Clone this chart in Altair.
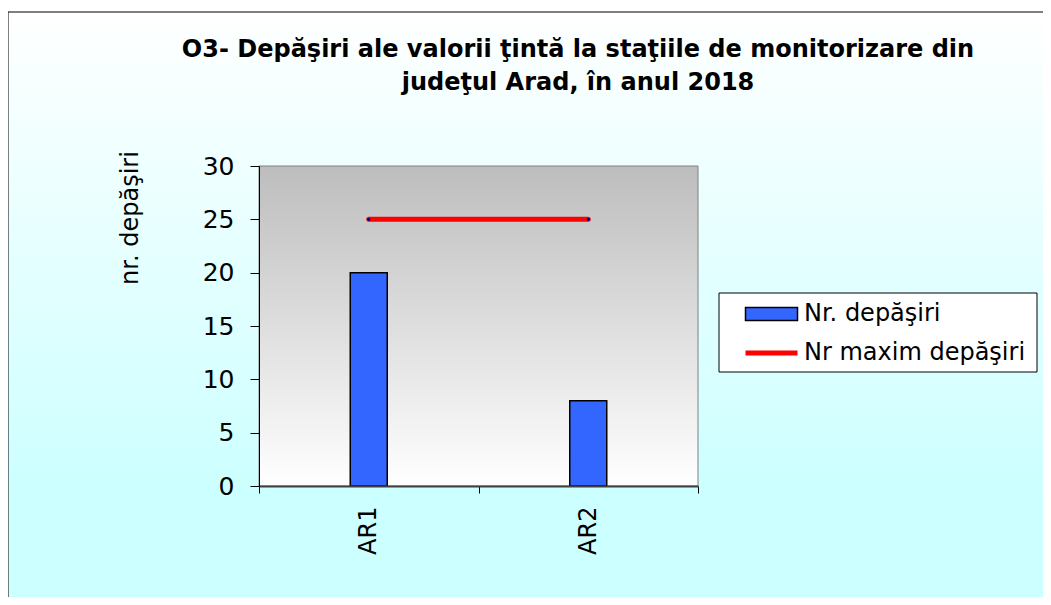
import altair as alt
import pandas as pd

# ---- data ----
stations = ["AR1", "AR2"]
depasiri = [20, 8]
maxim = [25, 25]
series = ["Nr. depăşiri", "Nr maxim depăşiri"]
colors = ["#3366FF", "#FF0000"]
y_ticks = [0, 5, 10, 15, 20, 25, 30]
title_lines = ["O3- Depăşiri ale valorii ţintă la staţiile de monitorizare din",
               "judeţul Arad, în anul 2018"]
y_title = "nr. depăşiri"

bars_df = pd.DataFrame({"statie": stations, "valoare": depasiri, "serie": series[0]})
line_df = pd.DataFrame({"statie": stations, "valoare": maxim, "serie": series[1]})

FONT = "DejaVu Sans"
W, H = 439, 320

x_enc = alt.X(
    "statie:N", sort=stations,
    scale=alt.Scale(domain=stations, paddingInner=0, paddingOuter=0),
    axis=alt.Axis(title=None, labelAngle=270, labelAlign="right", labelBaseline="middle",
                  labelFont=FONT, labelFontSize=24, labelColor="black", labelPadding=13,
                  tickBand="extent", tickSize=7, tickColor="black",
                  domainColor="#404040", domainWidth=2, zindex=1),
)
y_enc = alt.Y(
    "valoare:Q",
    scale=alt.Scale(domain=[0, 30], nice=False),
    axis=alt.Axis(values=y_ticks, title=y_title, titleFont=FONT, titleFontSize=24,
                  titleFontWeight="normal", titleAngle=270, titleX=-122, titleY=51.5,
                  titleAlign="center", titleBaseline="alphabetic", titleColor="black",
                  labelFont=FONT, labelFontSize=25, labelColor="black", labelPadding=16,
                  tickSize=9, tickColor="black", domainColor="black", grid=False, zindex=1),
)

common_leg = dict(title=None, orient="none", padding=0, labelFont=FONT, labelFontSize=24,
                  labelColor="black", labelLimit=500, symbolSize=169, symbolOffset=30.5,
                  labelOffset=20.5, zindex=2)
fill_enc = alt.Fill(
    "serie:N", scale=alt.Scale(domain=[series[0]], range=[colors[0]]),
    legend=alt.Legend(legendX=470, legendY=136, symbolType="M-4,-1H4V1H-4Z",
                      symbolStrokeColor="black", symbolStrokeWidth=1.5,
                      symbolOpacity=1, **common_leg))
stroke_enc = alt.Stroke(
    "serie:N", scale=alt.Scale(domain=[series[1]], range=[colors[1]]),
    legend=alt.Legend(legendX=470, legendY=175, symbolType="M-4,0H4",
                      symbolStrokeWidth=5, symbolOpacity=1, **common_leg))

outer_grad = {"gradient": "linear", "x1": 0, "y1": 0, "x2": 0, "y2": 1,
              "stops": [{"offset": 0, "color": "#FFFFFF"},
                        {"offset": 0.8, "color": "#CCFFFF"},
                        {"offset": 1, "color": "#CCFFFF"}]}
plot_grad = {"gradient": "linear", "x1": 0, "y1": 0, "x2": 0, "y2": 1,
             "stops": [{"offset": 0, "color": "#BDBDBD"},
                       {"offset": 1, "color": "#FFFFFF"}]}

one = alt.Data(values=[{"k": 1}])
outer = alt.Chart(one).mark_rect(fill=outer_grad, stroke="black", strokeWidth=1).encode(
    x=alt.value(-251), x2=alt.value(800), y=alt.value(-154), y2=alt.value(450))
plotbg = alt.Chart(one).mark_rect(fill=plot_grad, stroke="#808080", strokeWidth=1).encode(
    x=alt.value(0), x2=alt.value("width"), y=alt.value(0), y2=alt.value("height"))
legbox = alt.Chart(one).mark_rect(fill="white", stroke="black", strokeWidth=1).encode(
    x=alt.value(460), x2=alt.value(778), y=alt.value(127), y2=alt.value(206))

bars = alt.Chart(bars_df).mark_bar(size=37, stroke="black", strokeWidth=1.5).encode(
    x=x_enc, y=y_enc, fill=fill_enc)
line = alt.Chart(line_df).mark_line(strokeWidth=5, strokeCap="round").encode(
    x=x_enc, y=y_enc, stroke=stroke_enc)
pts = alt.Chart(line_df).mark_point(filled=True, color="#000080", size=10, opacity=1).encode(
    x=x_enc, y=y_enc)

chart = alt.layer(outer, plotbg, legbox, bars, line, pts).properties(
    width=W, height=H,
    autosize=alt.AutoSizeParams(type="none"),
    padding={"left": 251, "top": 158, "right": 345, "bottom": 111},
    background="white",
    title=alt.TitleParams(text=title_lines, font=FONT, fontSize=24, fontWeight="bold",
                          color="black", anchor="middle", frame="group", dx=99.5,
                          offset=-83.5, baseline="top", lineHeight=33, zindex=1),
).configure_view(strokeWidth=0)

chart.save("out.html", embed_options={"renderer": "svg", "actions": False})
